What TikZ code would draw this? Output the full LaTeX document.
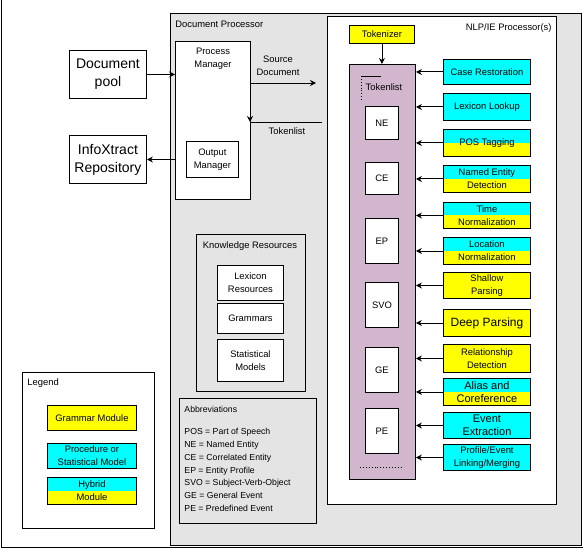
\documentclass[tikz,border=0pt]{standalone}
\usepackage{fontspec}
\setmainfont{Liberation Sans}
\usetikzlibrary{arrows.meta}
\definecolor{bggray}{RGB}{228,228,228}
\definecolor{tlpurple}{RGB}{210,182,206}
\definecolor{ycol}{RGB}{255,255,0}
\definecolor{ccol}{RGB}{0,255,255}
\tikzset{
  every path/.style={line width=0.9pt},
  arr/.style={-{Stealth[length=6pt,width=6pt]}},
  fs/.style={font=\fontsize{#1}{13}\selectfont},
  box/.style 2 args={draw, inner sep=0pt, anchor=north west, minimum width=#1, minimum height=#2, align=center},
  ymod/.style={box={87pt}{#1}, fill=ycol, fs=9.4},
  cmod/.style={box={87pt}{#1}, fill=ccol, fs=9.4},
  hmod/.style={box={87pt}{#1}, fs=9.4, path picture={
      \fill[ccol] (path picture bounding box.north west) rectangle (path picture bounding box.east);
      \fill[ycol] (path picture bounding box.west) rectangle (path picture bounding box.south east);}},
  inbox/.style={box={33pt}{#1}, fill=white, fs=9.4},
  lbl/.style={inner sep=0pt, fs=9.4, align=center},
}
\begin{document}
\begin{tikzpicture}[x=1pt,y=-1pt]
\useasboundingbox (0,0) rectangle (583,548);
% outer frame
\draw (1,0) -- (1,547) -- (583,547);
% containers
\node[box={411pt}{532pt}, fill=bggray] (dp) at (170,13) {};
\node[lbl, anchor=west] (dplbl) at (175,24) {Document Processor};
\node[box={229pt}{488pt}, fill=white] (nlp) at (327,16) {};
\node[lbl, anchor=east] (nlplbl) at (552,28) {NLP/IE Processor(s)};
% process manager
\node[box={75pt}{158pt}, fill=white] (pm) at (175,41) {};
\node[lbl] (pmlbl) at (213,58.5) {Process\\Manager};
\node[box={52pt}{36pt}, fill=white, fs=9.4] (om) at (186,141) {Output\\Manager};
% left boxes
\node[box={77pt}{48pt}, fill=white, font=\fontsize{14}{18}\selectfont] (pool) at (69,50) {Document\\pool};
\node[box={77pt}{48pt}, fill=white, font=\fontsize{14}{18}\selectfont] (repo) at (69,135) {InfoXtract\\Repository};
\draw[arr] (pool.east) -- (pool.east -| pm.west);
\draw[arr] (pm.west |- repo.east) -- (repo.east);
% source document / tokenlist
\coordinate (sdend) at (316,83);
\draw[arr] (pm.east |- sdend) -- (sdend);
\node[lbl] (sdlbl) at (278,65.5) {Source\\Document};
\coordinate (tkstart) at (322,122);
\draw (tkstart) -- (pm.east |- tkstart);
\coordinate (tkarr) at (250,111);
\draw[arr] (tkarr) -- (tkarr |- tkstart);
\node[lbl] (tklbl) at (287,131) {Tokenlist};
% tokenizer and tokenlist column
\node[box={65pt}{18pt}, fill=ycol, fs=9.4] (tokzr) at (349,25) {Tokenizer};
\node[box={66pt}{415pt}, fill=tlpurple] (tl) at (349,64) {};
\draw[arr] (tokzr.south) -- (tokzr.south |- tl.north);
\draw (361,76) -- (381,76);
\draw[dotted] (361,76) -- (361,100);
\node[lbl] (tlinner) at (384,87) {Tokenlist};
\draw[dotted] (360,467) -- (403,467);
\node[inbox={33pt}] (ne) at (365,106) {NE};
\node[inbox={32pt}] (ce) at (365,162) {CE};
\node[inbox={45pt}] (ep) at (365,218) {EP};
\node[inbox={45pt}] (svo) at (365,282) {SVO};
\node[inbox={45pt}] (ge) at (365,347) {GE};
\node[inbox={45pt}] (pe) at (365,408) {PE};
% modules
\node[cmod={25pt}] (cr) at (443,59) {Case Restoration};
\node[cmod={27pt}] (ll) at (443,93) {Lexicon Lookup};
\node[hmod={27pt}] (pos) at (443,129) {POS Tagging};
\node[hmod={27pt}] (ned) at (443,165) {Named Entity\\Detection};
\node[hmod={26pt}] (tn) at (443,202) {Time\\Normalization};
\node[hmod={27pt}] (ln) at (443,237) {Location\\Normalization};
\node[ymod={26pt}] (sp) at (443,272) {Shallow\\Parsing};
\node[ymod={27pt}, fs=12] (dpm) at (443,309) {Deep Parsing};
\node[ymod={28pt}] (rd) at (443,344) {Relationship\\Detection};
\node[hmod={27pt}, font=\fontsize{11}{13.5}\selectfont] (ac) at (443,378) {Alias and\\Coreference};
\node[cmod={26pt}, font=\fontsize{11}{13.5}\selectfont] (ee) at (443,412) {Event\\Extraction};
\node[cmod={26pt}] (pel) at (443,444) {Profile/Event\\Linking/Merging};
\foreach \m in {cr,ll,pos,ned,tn,ln,sp,dpm,rd,ac,ee,pel}
  \draw[arr] (\m.west) -- (\m.west -| tl.east);
% knowledge resources
\node[box={109pt}{157pt}, fill=bggray] (kr) at (196,234) {};
\node[lbl] (krlbl) at (250,246) {Knowledge Resources};
\node[box={66pt}{35pt}, fill=white, fs=9.4] (lr) at (217,265) {Lexicon\\Resources};
\node[box={66pt}{30pt}, fill=white, fs=9.4] (gr) at (217,303) {Grammars};
\node[box={66pt}{42pt}, fill=white, fs=9.4] (sm) at (217,339) {Statistical\\Models};
% abbreviations
\node[box={137pt}{125pt}, fill=bggray] (abbr) at (179,398) {};
\node[lbl, anchor=west, font=\fontsize{8.7}{12}\selectfont] (abbrlbl) at (184,409) {Abbreviations};
\node[inner sep=0pt, anchor=north west, align=left, font=\fontsize{8.7}{12.8}\selectfont] (abbrtxt) at (184,428)
 {POS = Part of Speech\\NE = Named Entity\\CE = Correlated Entity\\EP = Entity Profile\\SVO = Subject-Verb-Object\\GE = General Event\\PE = Predefined Event};
% legend
\node[box={132pt}{156pt}, fill=white] (legend) at (22,372) {};
\node[lbl, anchor=west] (leglbl) at (27,383) {Legend};
\node[ymod={25pt}, minimum width=89pt] (lg) at (47,405) {Grammar Module};
\node[cmod={25pt}, minimum width=89pt] (lp) at (47,443) {Procedure or\\Statistical Model};
\node[hmod={27pt}, minimum width=89pt] (lh) at (47,477) {Hybrid\\Module};
\end{tikzpicture}
\end{document}
